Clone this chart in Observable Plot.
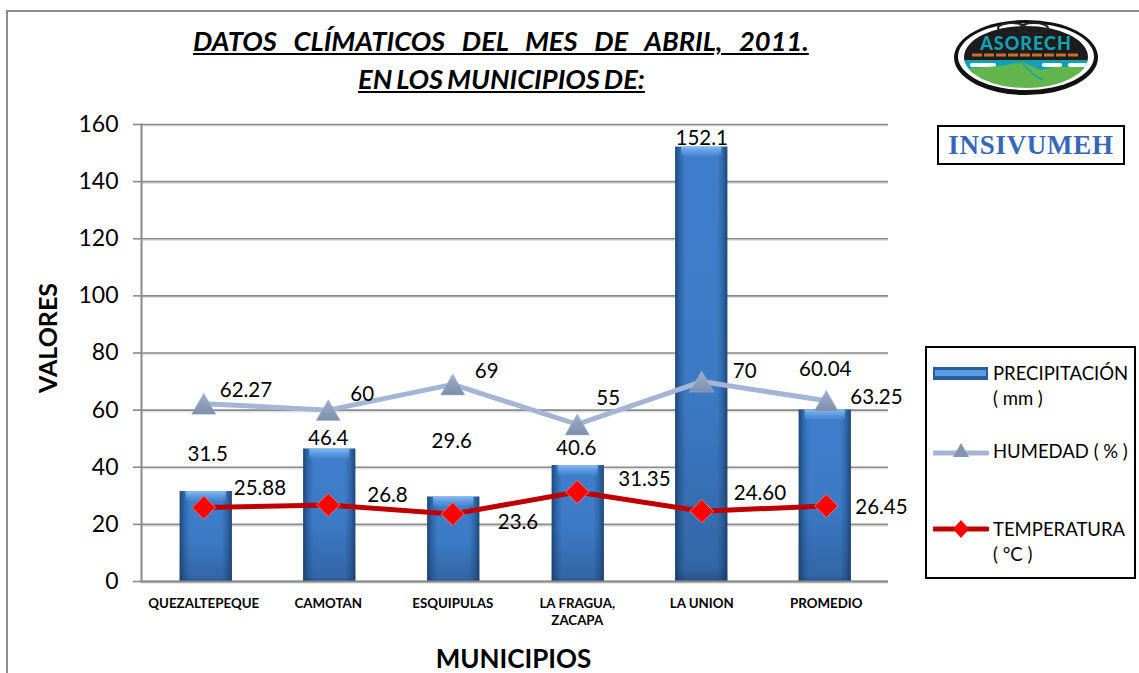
<!DOCTYPE html>
<html lang="es">
<head>
<meta charset="utf-8">
<script src="https://cdn.jsdelivr.net/npm/d3@7"></script>
<script src="https://cdn.jsdelivr.net/npm/@observablehq/plot@0.6"></script>
<style>
  html, body { margin: 0; padding: 0; background: #fff; overflow: hidden; }
  #page { position: relative; width: 1139px; height: 673px; overflow: hidden; font-family: Lato, Carlito, sans-serif; color: #000; }
  #frame { position: absolute; left: 6px; top: 10px; width: 1200px; height: 800px; border: 2px solid #8c8c8c; box-sizing: border-box; }
  #chart { position: absolute; left: 0; top: 0; }
  #chart svg { display: block; }
  .title { position: absolute; font-weight: 700; font-style: italic; text-decoration: underline; font-size: 27.3px; line-height: 30px; white-space: nowrap; }
  #t1 { left: 193px; top: 26px; word-spacing: 10.7px; }
  #t2 { left: 358px; top: 64px; word-spacing: -2px; }
  #logo { position: absolute; left: 950px; top: 16px; }
  #insiv { position: absolute; left: 937px; top: 125px; width: 188px; height: 40px; box-sizing: border-box; border: 2px solid #000; background: #fff; text-align: center; font: 700 27px/36px "Liberation Serif", serif; color: #3568b8; white-space: nowrap; letter-spacing: .7px; }
  #legend { position: absolute; left: 925px; top: 346px; width: 211px; height: 233px; box-sizing: border-box; border: 2px solid #000; background: #fff; font-size: 18.5px; line-height: 26px; }
  #legend .e { position: absolute; left: 66px; white-space: nowrap; }
  #legend svg { position: absolute; left: 6px; }
</style>
</head>
<body>
<div id="page">
  <div id="frame"></div>
  <div id="chart"></div>
  <div class="title" id="t1">DATOS CLÍMATICOS DEL MES DE ABRIL, 2011.</div>
  <div class="title" id="t2">EN LOS MUNICIPIOS DE:</div>
  <svg id="logo" width="152" height="84" viewBox="0 0 152 84">
    <defs><clipPath id="ov"><ellipse cx="76" cy="41" rx="62" ry="31"/></clipPath></defs>
    <ellipse cx="76" cy="41.5" rx="72" ry="37.5" fill="#111"/>
    <ellipse cx="76" cy="40.5" rx="68" ry="33.5" fill="#fff"/>
    <g clip-path="url(#ov)">
      <rect x="0" y="0" width="152" height="45" fill="#1c1c1c"/>
      <rect x="0" y="44" width="152" height="14" fill="#12a0b4"/>
      <rect x="20" y="47" width="26" height="4" rx="2" fill="#fff"/>
      <rect x="92" y="47" width="20" height="4" rx="2" fill="#fff"/>
      <rect x="118" y="47" width="20" height="4" rx="2" fill="#fff"/>
      <path d="M10 56 L22 52 L50 50 L73 46 L90 54 L104 51 L130 51 L150 56 V90 H0Z" fill="#62b44c"/>
      <path d="M72 47 L84 59 L93 64" fill="none" stroke="#12a0b4" stroke-width="1.5"/>
    </g>
    <ellipse cx="62" cy="12" rx="14" ry="5" fill="none" stroke="#222" stroke-width="2"/>
    <ellipse cx="84" cy="12" rx="14" ry="5" fill="none" stroke="#222" stroke-width="2"/>
    <text x="76" y="34" text-anchor="middle" font-family="Lato, sans-serif" font-weight="900" font-size="18" letter-spacing="1" fill="#12a0b4">ASORECH</text>
    <line x1="22" y1="39" x2="130" y2="39" stroke="#c8702a" stroke-width="3" stroke-dasharray="10 2"/>
  </svg>
  <div id="insiv">INSIVUMEH</div>
  <div id="legend">
    <svg width="56" height="16" style="top:18px"><rect x="0" y="1" width="55" height="13" fill="#2a5d9c"/><rect x="2" y="4" width="51" height="6" fill="#5b9ce6"/></svg>
    <div class="e" style="top:12px">PRECIPITACIÓN</div>
    <div class="e" style="top:37px">( mm )</div>
    <svg width="56" height="22" style="top:92px"><line x1="1" y1="13" x2="54" y2="13" stroke="#a5b5d5" stroke-width="5" stroke-linecap="round"/><path d="M28 3 L36 17 H20Z" fill="#8496b0"/></svg>
    <div class="e" style="top:90px">HUMEDAD ( % )</div>
    <svg width="56" height="22" style="top:170px"><line x1="1" y1="11" x2="54" y2="11" stroke="#c00000" stroke-width="5" stroke-linecap="round"/><path d="M28 2 L36 11 L28 20 L20 11Z" fill="#ff0000"/></svg>
    <div class="e" style="top:168px">TEMPERATURA</div>
    <div class="e" style="top:193px">( °C )</div>
  </div>
</div>
<script>
const municipios = ["QUEZALTEPEQUE", "CAMOTAN", "ESQUIPULAS", "LA FRAGUA, ZACAPA", "LA UNION", "PROMEDIO"];
const tickLabels = ["QUEZALTEPEQUE", "CAMOTAN", "ESQUIPULAS", "LA FRAGUA,\nZACAPA", "LA UNION", "PROMEDIO"];
const precipitacion = [31.5, 46.4, 29.6, 40.6, 152.1, 60.04];
const humedad = [62.27, 60, 69, 55, 70, 63.25];
const temperatura = [25.88, 26.8, 23.6, 31.35, 24.60, 26.45];
const precipLabels = ["31.5", "46.4", "29.6", "40.6", "152.1", "60.04"];
const humedadLabels = ["62.27", "60", "69", "55", "70", "63.25"];
const tempLabels = ["25.88", "26.8", "23.6", "31.35", "24.60", "26.45"];
const yTicks = [0, 20, 40, 60, 80, 100, 120, 140, 160];

// Label offsets from each point, in pixels, as the hand-moved labels sit
const precipOffset = [[4,-37],[0,-11],[-1,-56],[-1,-17],[0,-9],[-1,-41]];
const humedadOffset = [[16,-13],[22,-16],[22,-13],[19,-26],[31,-10],[24,-3]];
const tempOffset = [[30,-19],[39,-10],[45,8],[41,-13],[32,-18],[29,1]];
// In the picture the bars sit slightly off the markers' category centres
const barShift = [2.5, 1.5, 1, 1, 0, -1];

const rows = municipios.map((m, i) => ({m, p: precipitacion[i], h: humedad[i], t: temperatura[i]}));

const labelMarks = (key, labels, offsets, anchor) => rows.map((r, i) =>
  Plot.text([r], {x: "m", y: key, text: () => labels[i], dx: offsets[i][0], dy: offsets[i][1],
    textAnchor: anchor, fontSize: 20.5, fill: "#000"}));

const barMarks = rows.flatMap((r, i) => [
  Plot.barY([r], {x: "m", y: "p", dx: barShift[i], fill: "url(#barH)"}),
  Plot.barY([r], {x: "m", y: "p", dx: barShift[i], fill: "url(#barV)"}),
  Plot.barY([r], {x: "m", y1: "p", y2: (d) => d.p - 3.4, dx: barShift[i], fill: "url(#barTop)", insetLeft: 6, insetRight: 6})
]);

const defs = () => {
  const g = document.createElementNS("http://www.w3.org/2000/svg", "g");
  g.innerHTML = `<defs>
    <linearGradient id="barH" x1="0" x2="1" y1="0" y2="0">
      <stop offset="0" stop-color="#1d4675"/><stop offset=".09" stop-color="#2f68ac"/>
      <stop offset=".2" stop-color="#3f7ecb"/><stop offset=".8" stop-color="#3f7ecb"/>
      <stop offset=".91" stop-color="#2f68ac"/><stop offset="1" stop-color="#1d4675"/>
    </linearGradient>
    <linearGradient id="barV" x1="0" x2="0" y1="0" y2="1">
      <stop offset="0" stop-color="#17345a" stop-opacity="0"/><stop offset=".55" stop-color="#17345a" stop-opacity=".05"/>
      <stop offset=".97" stop-color="#17345a" stop-opacity=".32"/><stop offset="1" stop-color="#17345a" stop-opacity=".6"/>
    </linearGradient>
    <linearGradient id="barTop" x1="0" x2="0" y1="0" y2="1">
      <stop offset="0" stop-color="#8cc0f4" stop-opacity=".95"/><stop offset="1" stop-color="#5f9fe6" stop-opacity=".25"/>
    </linearGradient>
    <linearGradient id="tri" x1="0" x2="0" y1="0" y2="1">
      <stop offset="0" stop-color="#9fb0cc"/><stop offset="1" stop-color="#7b8eaa"/>
    </linearGradient>
  </defs>`;
  return g;
};

const chart = Plot.plot({
  width: 1139,
  height: 673,
  marginLeft: 141,
  marginRight: 251,
  marginTop: 124,
  marginBottom: 92,
  style: {fontFamily: "Lato, Carlito, sans-serif", background: "transparent", color: "#000"},
  x: {domain: municipios, paddingInner: 0.58, paddingOuter: 0.29, round: false, label: null},
  y: {domain: [0, 160], label: null},
  marks: [
    defs,
    Plot.ruleY(yTicks, {stroke: "#e2e2e2", strokeWidth: 1.5, dy: 1.5}),
    Plot.ruleY(yTicks, {stroke: "#8a8a8a", strokeWidth: 1.6}),
    Plot.frame({anchor: "left", stroke: "#8a8a8a", strokeWidth: 2}),
    Plot.axisY({ticks: yTicks, label: null, tickSize: 8, tickPadding: 15, fontSize: 23, stroke: "#8a8a8a", strokeWidth: 1.6, fill: "#000"}),
    Plot.text(["VALORES"], {frameAnchor: "left", textAnchor: "middle", rotate: -90, dx: -93, dy: -15, fontSize: 25, fontWeight: 700, fill: "#000"}),
    Plot.axisX({tickSize: 0, tickPadding: 15, label: null, tickFormat: (d) => tickLabels[municipios.indexOf(d)], fontSize: 13.3, fontWeight: 700, lineHeight: 1.25, fill: "#000"}),
    Plot.text(["MUNICIPIOS"], {frameAnchor: "bottom", dx: -1.5, dy: 86, fontSize: 26, fontWeight: 700, fill: "#000"}),
    ...barMarks,
    Plot.line(rows, {x: "m", y: "h", stroke: "#a5b5d5", strokeWidth: 5}),
    Plot.dot(rows, {x: "m", y: "h", symbol: "triangle", r: 9, dy: 3.5, fill: "url(#tri)", stroke: "#a5b5d5", strokeWidth: 0.5}),
    Plot.line(rows, {x: "m", y: "t", stroke: "#c00000", strokeWidth: 5}),
    Plot.dot(rows, {x: "m", y: "t", symbol: "diamond2", r: 10.5, fill: "#ff0000", stroke: "#e07a7a", strokeWidth: 1}),
    Plot.ruleY([0], {stroke: "#8a8a8a", strokeWidth: 2}),
    ...labelMarks("p", precipLabels, precipOffset, "middle"),
    ...labelMarks("h", humedadLabels, humedadOffset, "start"),
    ...labelMarks("t", tempLabels, tempOffset, "start")
  ]
});
document.getElementById("chart").append(chart);
</script>
</body>
</html>
